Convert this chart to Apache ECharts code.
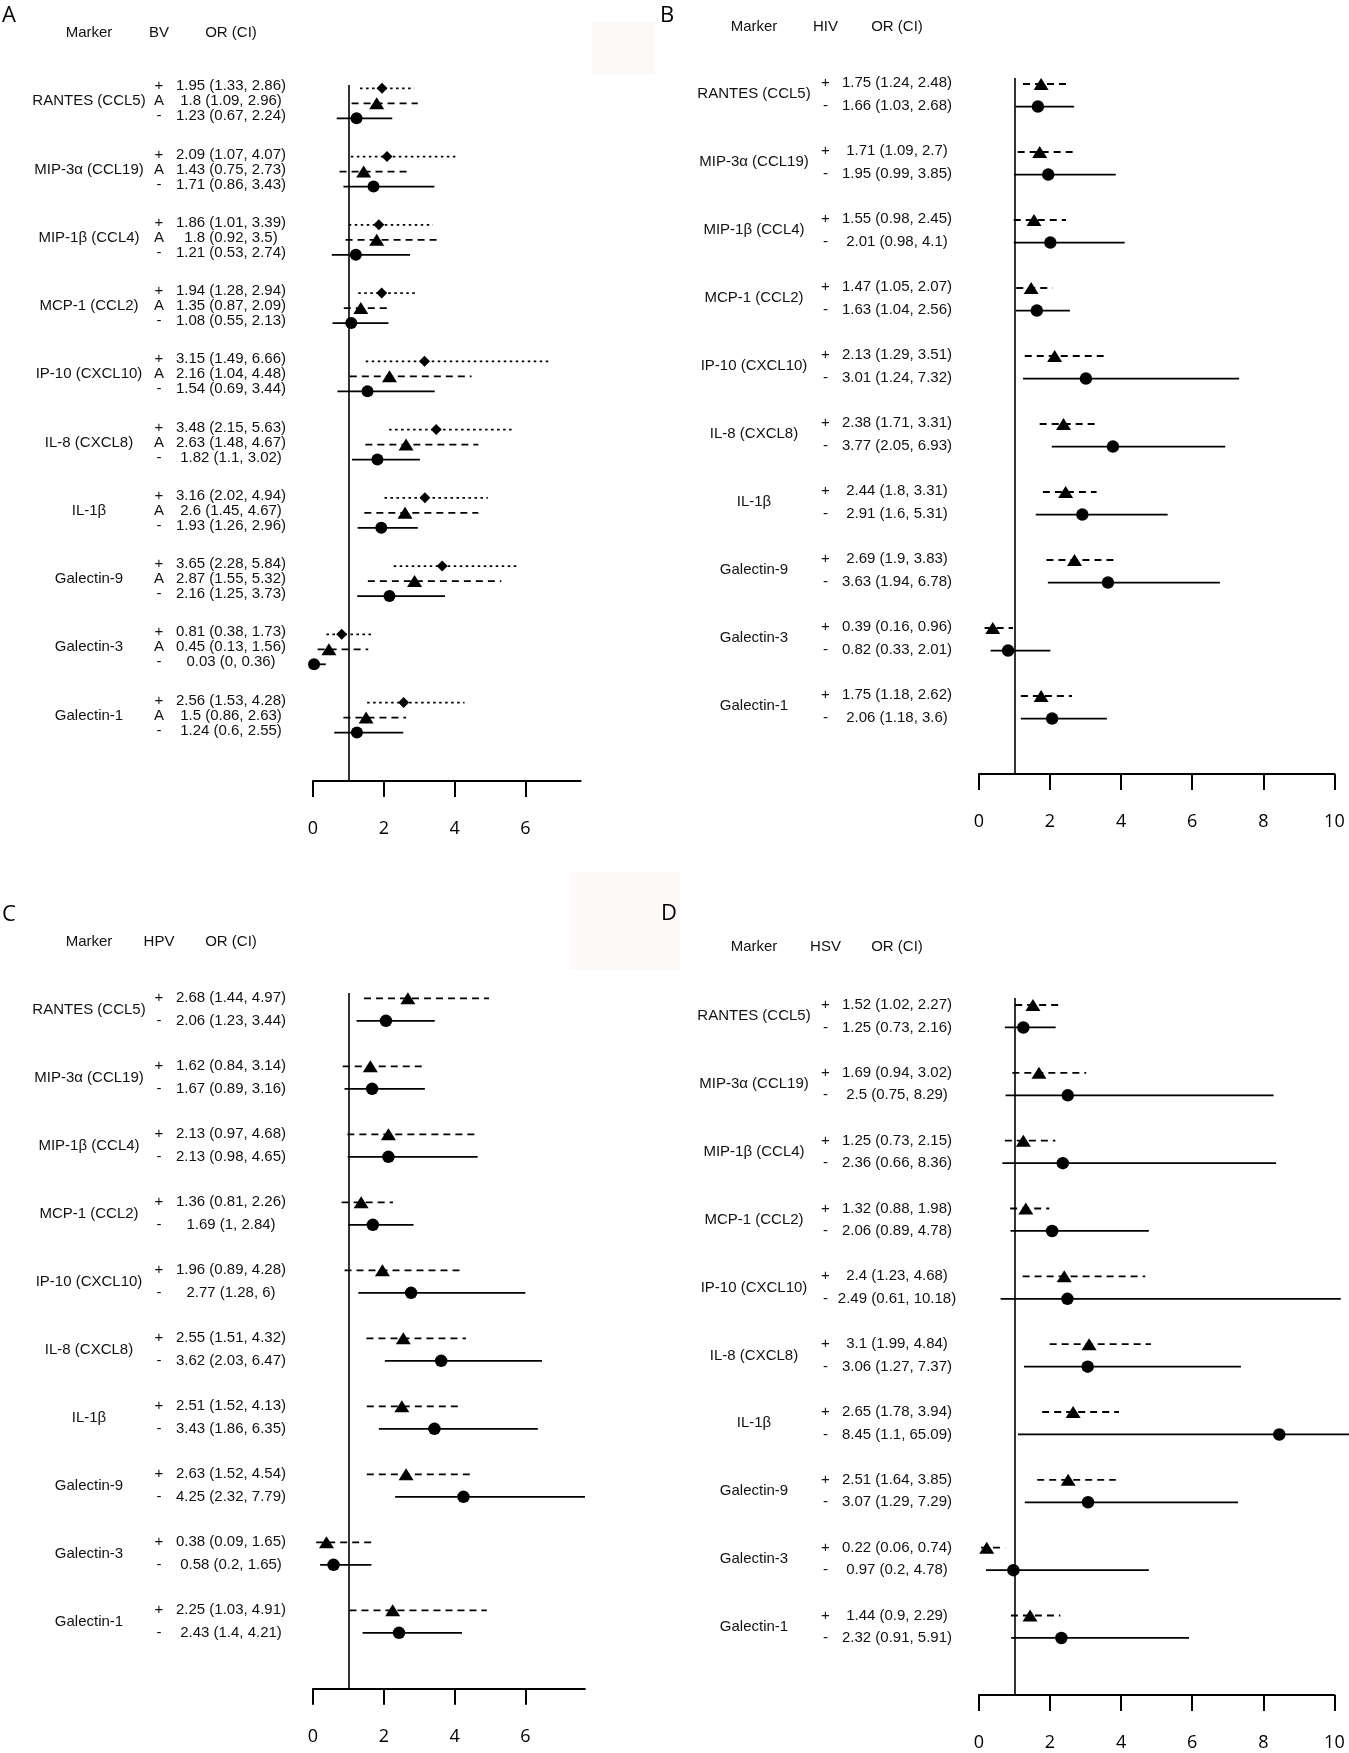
<!DOCTYPE html>
<html><head><meta charset="utf-8">
<script src="https://cdn.jsdelivr.net/npm/echarts@6/dist/echarts.min.js"></script>
<style>html,body{margin:0;padding:0;background:#fff}#c{width:1349px;height:1753px}</style>
</head><body><div id="c"></div>
<script>
// ---------- data ----------
const markerNames = ['RANTES (CCL5)','MIP-3α (CCL19)','MIP-1β (CCL4)','MCP-1 (CCL2)','IP-10 (CXCL10)','IL-8 (CXCL8)','IL-1β','Galectin-9','Galectin-3','Galectin-1'];
// each entry: [OR, CI low, CI high]
const bvPos  = [[1.95,1.33,2.86],[2.09,1.07,4.07],[1.86,1.01,3.39],[1.94,1.28,2.94],[3.15,1.49,6.66],[3.48,2.15,5.63],[3.16,2.02,4.94],[3.65,2.28,5.84],[0.81,0.38,1.73],[2.56,1.53,4.28]];
const bvAsym = [[1.8,1.09,2.96],[1.43,0.75,2.73],[1.8,0.92,3.5],[1.35,0.87,2.09],[2.16,1.04,4.48],[2.63,1.48,4.67],[2.6,1.45,4.67],[2.87,1.55,5.32],[0.45,0.13,1.56],[1.5,0.86,2.63]];
const bvNeg  = [[1.23,0.67,2.24],[1.71,0.86,3.43],[1.21,0.53,2.74],[1.08,0.55,2.13],[1.54,0.69,3.44],[1.82,1.1,3.02],[1.93,1.26,2.96],[2.16,1.25,3.73],[0.03,0,0.36],[1.24,0.6,2.55]];
const hivPos = [[1.75,1.24,2.48],[1.71,1.09,2.7],[1.55,0.98,2.45],[1.47,1.05,2.07],[2.13,1.29,3.51],[2.38,1.71,3.31],[2.44,1.8,3.31],[2.69,1.9,3.83],[0.39,0.16,0.96],[1.75,1.18,2.62]];
const hivNeg = [[1.66,1.03,2.68],[1.95,0.99,3.85],[2.01,0.98,4.1],[1.63,1.04,2.56],[3.01,1.24,7.32],[3.77,2.05,6.93],[2.91,1.6,5.31],[3.63,1.94,6.78],[0.82,0.33,2.01],[2.06,1.18,3.6]];
const hpvPos = [[2.68,1.44,4.97],[1.62,0.84,3.14],[2.13,0.97,4.68],[1.36,0.81,2.26],[1.96,0.89,4.28],[2.55,1.51,4.32],[2.51,1.52,4.13],[2.63,1.52,4.54],[0.38,0.09,1.65],[2.25,1.03,4.91]];
const hpvNeg = [[2.06,1.23,3.44],[1.67,0.89,3.16],[2.13,0.98,4.65],[1.69,1,2.84],[2.77,1.28,6],[3.62,2.03,6.47],[3.43,1.86,6.35],[4.25,2.32,7.79],[0.58,0.2,1.65],[2.43,1.4,4.21]];
const hsvPos = [[1.52,1.02,2.27],[1.69,0.94,3.02],[1.25,0.73,2.15],[1.32,0.88,1.98],[2.4,1.23,4.68],[3.1,1.99,4.84],[2.65,1.78,3.94],[2.51,1.64,3.85],[0.22,0.06,0.74],[1.44,0.9,2.29]];
const hsvNeg = [[1.25,0.73,2.16],[2.5,0.75,8.29],[2.36,0.66,8.36],[2.06,0.89,4.78],[2.49,0.61,10.18],[3.06,1.27,7.37],[8.45,1.1,65.09],[3.07,1.29,7.29],[0.97,0.2,4.78],[2.32,0.91,5.91]];
const ticksSmall = [0,2,4,6];
const ticksLarge = [0,2,4,6,8,10];

// ---------- layout / styles ----------
const DOT = [2.5,3.5], DASH = [7,5];
const TXT = '#111';
const FAM = 'Liberation Sans';
const panels = [
 {letter:'A', letterPos:[2,16], group:'BV', headerY:33, cols:[89,159,231],
  grid:{left:313, top:85, width:267.6, height:696}, xMax:7.56, ticks:ticksSmall,
  first:3.3, rowGap:15, groupGap:68.25, textDy:-2, clip:true,
  rows:[{sym:'+', data:bvPos, shape:'diamond', size:[11,11], dash:DOT},
        {sym:'A', data:bvAsym, shape:'triangle', size:[15,12], dash:DASH},
        {sym:'-', data:bvNeg, shape:'circle', size:12, dash:null}]},
 {letter:'B', letterPos:[660,16], group:'HIV', headerY:27, cols:[754,825.5,897],
  grid:{left:978.9, top:78, width:355.5, height:696}, xMax:10, ticks:ticksLarge,
  first:6, rowGap:22.6, groupGap:68, textDy:-1, clip:false,
  rows:[{sym:'+', data:hivPos, shape:'triangle', size:[15,12], dash:DASH},
        {sym:'-', data:hivNeg, shape:'circle', size:12.5, dash:null}]},
 {letter:'C', letterPos:[2,915], group:'HPV', headerY:942, cols:[89,159,231],
  grid:{left:313, top:993, width:271.9, height:695.7}, xMax:7.68, ticks:ticksSmall,
  first:5.3, rowGap:22.5, groupGap:68, textDy:0, clip:true,
  rows:[{sym:'+', data:hpvPos, shape:'triangle', size:[15,12], dash:DASH},
        {sym:'-', data:hpvNeg, shape:'circle', size:12.5, dash:null}]},
 {letter:'D', letterPos:[661,914], group:'HSV', headerY:947, cols:[754,825.5,897],
  grid:{left:978.9, top:998, width:355.5, height:697.7}, xMax:10, ticks:ticksLarge,
  first:7, rowGap:22.5, groupGap:67.9, textDy:0, clip:false,
  rows:[{sym:'+', data:hsvPos, shape:'triangle', size:[15,12], dash:DASH},
        {sym:'-', data:hsvNeg, shape:'circle', size:12.5, dash:null}]}
];

const grids=[], xAxes=[], yAxes=[], series=[], graphics=[];
// faint background patches seen in the source image
graphics.push({type:'rect', shape:{x:592,y:22,width:63,height:53}, style:{fill:'#fdf9f9'}, z:-10, silent:true});
graphics.push({type:'rect', shape:{x:570,y:872,width:110,height:98}, style:{fill:'#fdf9f9'}, z:-10, silent:true});

panels.forEach((P, pi) => {
  const rowY = (g, k) => P.first + g*P.groupGap + k*P.rowGap;
  grids.push({left:P.grid.left, top:P.grid.top, width:P.grid.width, height:P.grid.height, containLabel:false, show:false});
  xAxes.push({type:'value', gridIndex:pi, min:0, max:P.xMax, position:'bottom',
    splitLine:{show:false},
    axisLine:{show:true, onZero:false, lineStyle:{color:'#000', width:2}},
    axisTick:{show:true, length:16, inside:false, lineStyle:{color:'#000', width:2}, customValues:P.ticks},
    axisLabel:{show:true, margin:38, customValues:P.ticks, fontFamily:'Open Sans', fontSize:18, color:'#000', lineHeight:20}});
  yAxes.push({type:'value', gridIndex:pi, min:0, max:P.grid.height, inverse:true, show:false});

  // CI lines
  const lineData = [];
  P.rows.forEach((R, k) => R.data.forEach((d, g) => lineData.push([d[1], d[2], rowY(g,k), k])));
  series.push({type:'custom', xAxisIndex:pi, yAxisIndex:pi, clip:P.clip, silent:true, animation:false,
    data:lineData, encode:{x:[0,1], y:2},
    renderItem:(params, api) => {
      const R = P.rows[api.value(3)];
      const a = api.coord([api.value(0), api.value(2)]), b = api.coord([api.value(1), api.value(2)]);
      const style = {stroke:'#000', lineWidth:1.8};
      if (R.dash) style.lineDash = R.dash;
      return {type:'line', shape:{x1:a[0], y1:a[1], x2:b[0], y2:b[1]}, style};
    }});

  // point markers
  P.rows.forEach((R, k) => {
    const s = {type:'scatter', xAxisIndex:pi, yAxisIndex:pi, symbol:R.shape, symbolSize:R.size,
      itemStyle:{color:'#000', opacity:1}, silent:true, clip:false, animation:false, z:3,
      data:R.data.map((d, g) => [d[0], rowY(g,k)])};
    if (k === 0) {
      s.markLine = {silent:true, symbol:['none','none'], animation:false, label:{show:false},
        lineStyle:{color:'#000', width:1.6, type:'solid'}, emphasis:{disabled:true}, data:[{xAxis:1}]};
    }
    series.push(s);
  });

  // text columns
  const textData = [];
  P.rows.forEach((R, k) => R.data.forEach((d, g) => textData.push([d[0], rowY(g,k), g, k])));
  const nRows = P.rows.length;
  const ts = (text, x, y) => ({type:'text', style:{text, x, y, align:'center', verticalAlign:'middle',
    fontFamily:FAM, fontSize:15, fill:TXT}});
  series.push({type:'custom', xAxisIndex:pi, yAxisIndex:pi, clip:false, silent:true, animation:false,
    data:textData, encode:{x:0, y:1},
    renderItem:(params, api) => {
      const g = api.value(2), k = api.value(3);
      const d = P.rows[k].data[g];
      const y = api.coord([0, api.value(1)])[1] + P.textDy;
      const children = [ts(P.rows[k].sym, P.cols[1], y), ts(`${d[0]} (${d[1]}, ${d[2]})`, P.cols[2], y)];
      if (k === 0) {
        const yc = api.coord([0, rowY(g, (nRows-1)/2)])[1] + P.textDy;
        children.push(ts(markerNames[g], P.cols[0], yc));
      }
      return {type:'group', children};
    }});

  // headers and panel letter
  ['Marker', P.group, 'OR (CI)'].forEach((t, i) => graphics.push({type:'text', silent:true,
    style:{text:t, x:P.cols[i], y:P.headerY, align:'center', verticalAlign:'middle', fontFamily:FAM, fontSize:15, fill:TXT}}));
  graphics.push({type:'text', silent:true, style:{text:P.letter, x:P.letterPos[0], y:P.letterPos[1],
    align:'left', verticalAlign:'middle', fontFamily:'Open Sans', fontSize:22, fill:'#000'}});
});

const chart = echarts.init(document.getElementById('c'), null, {renderer:'canvas', width:1349, height:1753});
chart.setOption({animation:false, backgroundColor:'#fff', grid:grids, xAxis:xAxes, yAxis:yAxes, series, graphic:graphics});
</script></body></html>
